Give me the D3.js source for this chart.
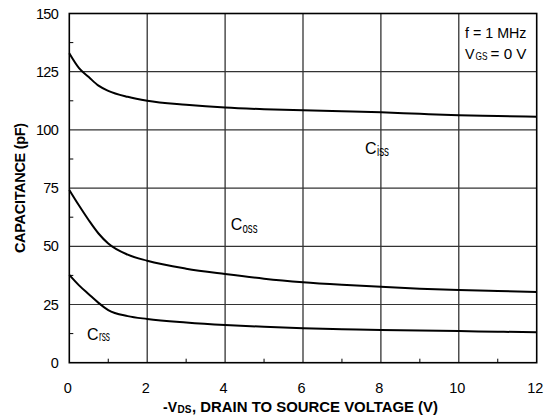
<!DOCTYPE html>
<html>
<head>
<meta charset="utf-8">
<script src="https://cdn.jsdelivr.net/npm/d3@7/dist/d3.min.js"></script>
<style>
  html, body { margin: 0; padding: 0; background: #fff; }
  svg { display: block; font-family: "Liberation Sans", Arial, sans-serif; }
</style>
</head>
<body>
<svg id="chart" width="546" height="418"></svg>
<script>
// Drain-source voltage sample points (V)
const vds = [0, 0.25, 0.5, 0.75, 1, 1.5, 2, 3, 4, 5, 6, 7, 8, 9, 10, 11, 12];
// Capacitance curves (pF)
const ciss = [132.9, 126.5, 122.7, 119.0, 116.8, 114.2, 112.5, 110.8, 109.6, 108.9, 108.4, 108.0, 107.6, 106.9, 106.3, 106.0, 105.6];
const coss = [74.2, 67.5, 61.2, 55.5, 51.2, 46.4, 43.8, 40.4, 38.1, 36.1, 34.6, 33.5, 32.6, 31.8, 31.2, 30.8, 30.4];
const crss = [37.7, 33.2, 29.4, 25.7, 22.6, 20.0, 18.8, 17.3, 16.2, 15.4, 14.8, 14.4, 14.0, 13.8, 13.6, 13.3, 13.1];

const xTicks = [0, 2, 4, 6, 8, 10, 12];
const xMinor = [1, 3, 5, 7, 9, 11];
const yTicks = [0, 25, 50, 75, 100, 125, 150];
const yMinor = [12.5, 37.5, 62.5, 87.5, 112.5, 137.5];

const svg = d3.select("#chart");
const m = { left: 69.3, right: 536.7, top: 13.5, bottom: 362.7 };

const x = d3.scaleLinear().domain([0, 12]).range([m.left, m.right]);
const y = d3.scaleLinear().domain([0, 150]).range([m.bottom, m.top]);

// Grid lines
const grid = svg.append("g");
grid.selectAll("line.v").data(xTicks.slice(1, -1)).join("line")
  .attr("x1", d => x(d)).attr("x2", d => x(d))
  .attr("y1", m.top).attr("y2", m.bottom)
  .attr("stroke", "#222").attr("stroke-width", 1.2);
grid.selectAll("line.h").data(yTicks.slice(1, -1)).join("line")
  .attr("x1", m.left).attr("x2", m.right)
  .attr("y1", d => y(d)).attr("y2", d => y(d))
  .attr("stroke", "#333").attr("stroke-width", 1.2);

// Minor ticks pointing into the plot
grid.selectAll("line.mx").data(xMinor).join("line")
  .attr("x1", d => x(d)).attr("x2", d => x(d))
  .attr("y1", m.bottom).attr("y2", m.bottom - 4)
  .attr("stroke", "#000").attr("stroke-width", 1);
grid.selectAll("line.my").data(yMinor).join("line")
  .attr("x1", m.left).attr("x2", m.left + 4)
  .attr("y1", d => y(d)).attr("y2", d => y(d))
  .attr("stroke", "#000").attr("stroke-width", 1);

// Plot frame
svg.append("rect")
  .attr("x", m.left).attr("y", m.top)
  .attr("width", m.right - m.left).attr("height", m.bottom - m.top)
  .attr("fill", "none").attr("stroke", "#000").attr("stroke-width", 1.6);

// Axes (labels only; frame and grid drawn above)
const xAxis = svg.append("g")
  .attr("transform", `translate(0,${m.bottom})`)
  .call(d3.axisBottom(x).tickValues(xTicks).tickSize(0).tickPadding(0).tickFormat(d3.format("d")));
xAxis.select(".domain").remove();
xAxis.selectAll("text")
  .attr("y", 30).attr("dy", 0).attr("dx", -2)
  .attr("font-size", 14.5).attr("fill", "#000")
  .attr("font-family", "Liberation Sans, Arial, sans-serif");

const yAxis = svg.append("g")
  .attr("transform", `translate(${m.left},0)`)
  .call(d3.axisLeft(y).tickValues(yTicks).tickSize(0).tickPadding(11).tickFormat(d3.format("d")));
yAxis.select(".domain").remove();
yAxis.selectAll("text")
  .attr("font-size", 14.5).attr("fill", "#000").attr("letter-spacing", -0.6)
  .attr("font-family", "Liberation Sans, Arial, sans-serif");

// Curves
const line = d3.line()
  .x((d, i) => x(vds[i]))
  .y(d => y(d))
  .curve(d3.curveMonotoneX);
[ciss, coss, crss].forEach(s => {
  svg.append("path").datum(s)
    .attr("d", line)
    .attr("fill", "none").attr("stroke", "#000").attr("stroke-width", 2);
});

// One piece of text, optionally squeezed to a given width
const labels = svg.append("g");
function piece(px, py, str, size, len, weight) {
  const t = labels.append("text").attr("x", px).attr("y", py)
    .attr("font-size", size).attr("font-weight", weight || "normal")
    .attr("fill", "#000").text(str);
  if (len) t.attr("textLength", len).attr("lengthAdjust", "spacingAndGlyphs");
  return t;
}

// Curve names
piece(365, 153.5, "C", 16);
piece(377, 156, "iss", 14, 12);
piece(230.7, 230, "C", 16);
piece(242.5, 233, "oss", 14, 15);
piece(87, 339.5, "C", 16);
piece(99, 341, "rss", 14, 11);

// Test conditions
piece(465, 37.5, "f = 1 MHz", 14, 61.5);
piece(465, 58.5, "V", 14, 9.5);
piece(475.5, 59.5, "GS", 11, 12);
piece(490.5, 58.5, "= 0 V", 14, 36);

// Axis titles
piece(163, 411.5, "-V", 14, null, "bold");
piece(177.5, 413, "DS", 10, null, "bold");
piece(192, 411.5, ", DRAIN TO SOURCE VOLTAGE (V)", 14.5, 246, "bold");

labels.append("text")
  .attr("transform", `translate(25,${(m.top + m.bottom) / 2}) rotate(-90)`)
  .attr("text-anchor", "middle")
  .attr("font-size", 14.5).attr("font-weight", "bold")
  .attr("letter-spacing", -0.3)
  .text("CAPACITANCE (pF)");
</script>
</body>
</html>
